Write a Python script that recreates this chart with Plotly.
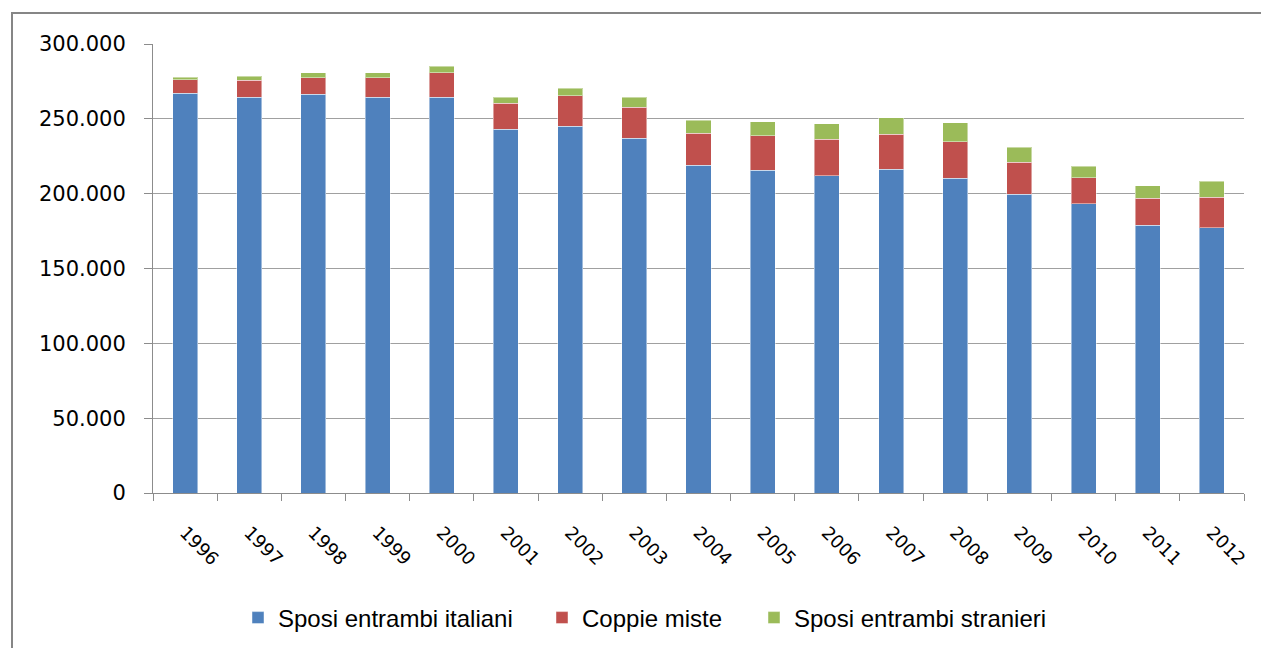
import plotly.graph_objects as go

# Marriages in Italy by citizenship of the spouses
years = ["1996", "1997", "1998", "1999", "2000", "2001", "2002", "2003", "2004",
         "2005", "2006", "2007", "2008", "2009", "2010", "2011", "2012"]
italiani = [267000, 264500, 266300, 264500, 264500, 242900, 245000, 237100, 218900,
            215800, 212000, 216400, 210400, 199500, 193300, 178800, 177300]
miste = [9100, 11200, 11200, 13000, 16300, 17400, 20500, 20500, 21600,
         22900, 24300, 23400, 24300, 21400, 17400, 18100, 20400]
stranieri = [1800, 2600, 3300, 3300, 4400, 4200, 5000, 6900, 8500,
             9400, 10400, 11000, 12700, 10200, 7500, 8400, 10500]

series = [
    ("Sposi entrambi italiani", italiani, "#4F81BD"),
    ("Coppie miste", miste, "#C0504D"),
    ("Sposi entrambi stranieri", stranieri, "#9BBB59"),
]

L, R, T, B = 153, 17, 44, 155
W, H = 1261, 648
pw, ph = W - L - R, H - T - B

# one legend per series so each entry sits at its own place along the bottom
legend_keys = ["legend", "legend2", "legend3"]
legend_marker_px = [258, 562, 774]

fig = go.Figure()
for (name, vals, color), key in zip(series, legend_keys):
    fig.add_trace(go.Bar(
        x=years, y=vals, name=name, legend=key,
        marker=dict(color=color, line=dict(color="rgba(255,255,255,0.45)", width=1)),
    ))

legend_style = dict(
    orientation="h", yanchor="middle", xanchor="left",
    y=(H - B - 618) / ph,
    font=dict(family="Liberation Sans", size=24, color="#000000"),
    itemwidth=30, bgcolor="rgba(0,0,0,0)", borderwidth=0,
)
legend_layout = {
    key: dict(legend_style, x=(px - 20 - L) / pw)
    for key, px in zip(legend_keys, legend_marker_px)
}

fig.update_layout(
    width=W, height=H,
    barmode="stack", bargap=0.61,
    separators=",.",
    paper_bgcolor="white", plot_bgcolor="white",
    margin=dict(l=L, r=R, t=T, b=B, pad=0, autoexpand=False),
    font=dict(family="DejaVu Sans", size=20, color="#000000"),
    showlegend=True,
    xaxis=dict(
        type="category", tickangle=45, showgrid=False, automargin=False,
        showline=True, linecolor="#8c8c8c", linewidth=1,
        ticks="outside", tickson="boundaries", ticklen=7, tickcolor="#8c8c8c",
        tickfont=dict(family="DejaVu Sans", size=18, color="#000000"),
        ticklabelstandoff=21,
    ),
    yaxis=dict(
        range=[0, 300000], dtick=50000, tickformat=",d", automargin=False,
        showgrid=True, gridcolor="#a0a0a0", gridwidth=1,
        showline=True, linecolor="#8c8c8c", linewidth=1,
        ticks="outside", ticklen=8, tickcolor="#8c8c8c",
        tickfont=dict(family="DejaVu Sans", size=21, color="#000000"),
        ticklabelstandoff=14, zeroline=False,
    ),
    **legend_layout,
)

# Outer frame around the chart
fig.add_shape(
    type="rect", xref="paper", yref="paper",
    x0=(12 - L) / pw, x1=(1275 - L) / pw,
    y0=(H - B - 665) / ph, y1=(H - B - 13) / ph,
    line=dict(color="#868686", width=2), fillcolor="rgba(0,0,0,0)", layer="below",
)

fig.write_html("out.html")
